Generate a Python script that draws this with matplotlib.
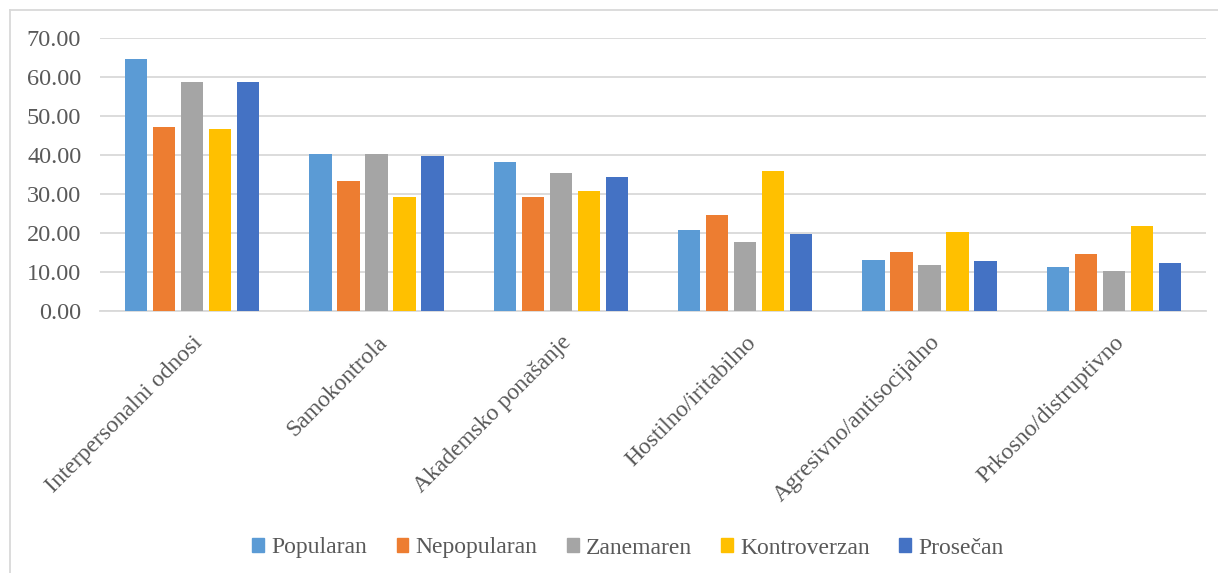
import numpy as np
import matplotlib.pyplot as plt
from matplotlib.lines import Line2D

categories = ["Interpersonalni odnosi", "Samokontrola", "Akademsko ponašanje",
              "Hostilno/iritabilno", "Agresivno/antisocijalno", "Prkosno/distruptivno"]
series = ["Popularan", "Nepopularan", "Zanemaren", "Kontroverzan", "Prosečan"]
popularan = [64.7, 40.2, 38.1, 20.7, 13.2, 11.2]
nepopularan = [47.2, 33.3, 29.2, 24.7, 15.2, 14.7]
zanemaren = [58.7, 40.2, 35.4, 17.7, 11.7, 10.2]
kontroverzan = [46.7, 29.2, 30.7, 36.0, 20.2, 21.7]
prosecan = [58.7, 39.7, 34.4, 19.7, 12.7, 12.2]
yticks = [0, 10, 20, 30, 40, 50, 60, 70]

values = [popularan, nepopularan, zanemaren, kontroverzan, prosecan]
colors = ["#5b9bd5", "#ed7d31", "#a5a5a5", "#ffc000", "#4472c4"]
txt = "#595959"

plt.rcParams['font.family'] = ['Liberation Serif', 'DejaVu Serif']

fig = plt.figure(figsize=(12.18, 5.73), dpi=100)
ax = fig.add_axes([100/1218, 1 - 311/573, 1106/1218, 273/573])

x = np.arange(len(categories))
step = 0.152
width = 0.12
for i, (name, vals, c) in enumerate(zip(series, values, colors)):
    ax.bar(x + (i - 2) * step, vals, width, color=c, label=name, zorder=3)

ax.set_xlim(-0.5, len(categories) - 0.5)
ax.set_ylim(0, 70)
ax.set_yticks(yticks)
ax.set_yticklabels(["%.2f" % v for v in yticks], color=txt, fontsize=17.5)
ax.yaxis.grid(True, color="#d9d9d9", linewidth=1.3, zorder=0)
ax.tick_params(axis='y', length=0, pad=13.5)
ax.tick_params(axis='x', length=0, pad=15)
ax.set_xticks(x)
ax.set_xticklabels(categories, rotation=45, ha='right', rotation_mode='anchor',
                   color=txt, fontsize=17)
for s in ["top", "right", "left"]:
    ax.spines[s].set_visible(False)
ax.spines["bottom"].set_color("#d9d9d9")
ax.spines["bottom"].set_linewidth(1.3)

handles = [plt.Rectangle((0, 0), 1, 1, color=c) for c in colors]
fig.legend(handles, series, loc='center', bbox_to_anchor=(628/1218, 1 - 548/573),
           ncol=5, frameon=False, fontsize=17, labelcolor=txt,
           handlelength=0.5, handleheight=0.5, handletextpad=0.3, columnspacing=1.25)

# chart area border (top and left visible)
fig.add_artist(Line2D([10/1218, 1], [1 - 10/573, 1 - 10/573], color="#d9d9d9", lw=1.3))
fig.add_artist(Line2D([10/1218, 10/1218], [0, 1 - 10/573], color="#d9d9d9", lw=1.3))

fig.savefig("out.png", dpi=100, facecolor="white")
